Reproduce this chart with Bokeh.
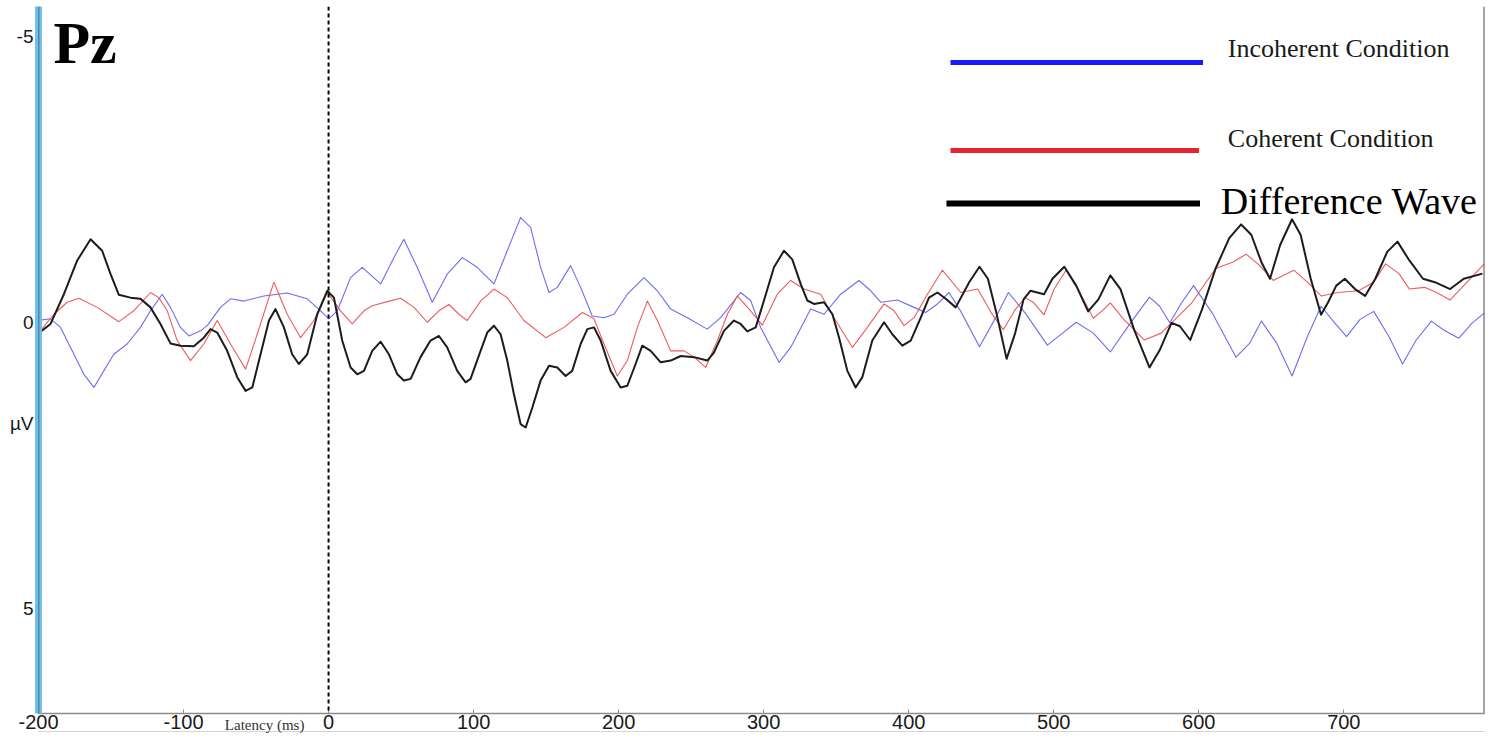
from bokeh.plotting import figure
from bokeh.models import Range1d, FixedTicker, Span, Label, Legend, LegendItem, LinearAxis
from bokeh.embed import file_html
from bokeh.resources import INLINE

# ---------------- data (latency in ms, amplitude in µV; negative plotted up) ----------------
incoherent_t = [-200.9, -191.7, -184.8, -177.9, -168.7, -161.8, -155.0, -148.1, -138.9, -129.7, -122.8,
                -114.7, -109.0, -102.1, -96.3, -88.3, -83.7, -74.5, -67.6, -58.4, -44.6, -28.5, -14.7,
                -5.5, 0.2, 6.0, 15.2, 23.2, 35.9, 45.1, 51.9, 61.1, 71.5, 81.8, 92.2, 102.5,
                114.0, 123.2, 132.4, 139.3, 146.2, 152.0, 157.7, 166.9, 173.8, 181.8, 189.9, 196.8,
                206.0, 217.5, 226.7, 235.9, 247.4, 261.1, 270.3, 284.1, 291.0, 297.9, 310.6, 318.6,
                332.4, 341.6, 353.1, 365.7, 373.8, 380.7, 392.2, 403.7, 411.7, 419.8, 427.8,
                435.9, 448.8, 459.3, 468.7, 480.4, 495.6, 506.1, 515.5, 527.3, 539.0, 553.0, 566.0,
                573.0, 580.0, 588.2, 596.4, 609.3, 625.7, 635.0, 643.2, 653.8, 664.3, 674.9, 684.3,
                693.7, 701.9, 711.2, 720.6, 731.1, 740.5, 749.9, 760.4, 768.6, 779.2, 788.6, 796.8]
incoherent_v = [-0.03, -0.06, 0.09, 0.44, 0.91, 1.14, 0.85, 0.56, 0.38, 0.09, -0.20,
                -0.49, -0.26, 0.09, 0.24, 0.15, 0.06, -0.26, -0.41, -0.37, -0.46, -0.51, -0.41,
                -0.20, -0.06, -0.20, -0.78, -0.96, -0.67, -1.13, -1.45, -0.96, -0.35, -0.84, -1.13, -0.96,
                -0.67, -1.25, -1.83, -1.66, -0.96, -0.52, -0.61, -0.99, -0.61, -0.11, -0.08, -0.14,
                -0.49, -0.78, -0.55, -0.23, -0.08, 0.12, -0.08, -0.52, -0.38, 0.09, 0.70, 0.44,
                -0.23, -0.14, -0.49, -0.73, -0.55, -0.35, -0.39, -0.26, -0.17, -0.32, -0.52,
                -0.19, 0.43, -0.05, -0.52, -0.16, 0.40, 0.19, 0.0, 0.19, 0.52, 0.01, -0.44,
                -0.28, 0.01, -0.34, -0.64, -0.16, 0.61, 0.37, -0.02, 0.37, 0.94, 0.25, -0.28,
                0.01, 0.25, -0.05, -0.19, 0.25, 0.73, 0.31, -0.02, 0.13, 0.28, 0.01, -0.16]

coherent_t = [-198.6, -189.4, -180.2, -172.2, -159.5, -144.6, -134.3, -122.8, -117.0, -111.2, -104.4,
              -95.2, -86.0, -76.8, -67.6, -57.2, -49.2, -37.7, -28.5, -19.3, -10.1, -0.9, 8.3, 16.3,
              24.4, 30.1, 40.5, 49.7, 58.9, 68.0, 76.1, 83.0, 89.9, 95.6, 104.8,
              114.0, 123.2, 134.7, 149.7, 162.3, 175.0, 183.0, 189.9, 199.1, 206.0, 212.9, 219.8,
              226.7, 235.9, 245.1, 252.0, 260.0, 268.1, 275.0, 281.8, 291.0, 299.1, 309.4, 318.6,
              327.8, 339.3, 348.5, 361.2, 371.5, 383.0, 389.9, 396.8, 403.7, 412.9, 423.2,
              435.9, 447.6, 457.0, 465.2, 473.4, 480.4, 486.3, 493.3, 500.3, 508.5, 517.9, 527.3,
              534.3, 539.0, 548.3, 562.4, 574.1, 581.2, 595.2, 611.6, 623.3, 632.7, 642.1, 651.4,
              658.5, 665.5, 674.9, 684.3, 696.0, 710.1, 720.6, 728.8, 738.1, 745.2, 755.7, 763.9,
              773.3, 785.0, 796.8]
coherent_v = [0.15, -0.14, -0.35, -0.42, -0.26, -0.01, -0.20, -0.52, -0.43, -0.20, 0.32,
              0.67, 0.38, -0.03, 0.38, 0.82, 0.21, -0.70, -0.14, 0.27, -0.03, -0.52, -0.20, 0.03,
              -0.20, -0.29, -0.36, -0.42, -0.26, 0.0, -0.20, -0.31, -0.14, -0.03, -0.37,
              -0.58, -0.43, -0.03, 0.27, 0.09, -0.17, -0.06, 0.38, 0.94, 0.67, 0.09, -0.37,
              -0.03, 0.50, 0.50, 0.61, 0.79, 0.32, -0.14, -0.46, -0.20, 0.05, -0.49, -0.73,
              -0.58, -0.49, -0.08, 0.44, 0.09, -0.32, -0.20, 0.06, -0.08, -0.49, -0.91,
              -0.52, -0.58, -0.16, 0.13, -0.22, -0.43, -0.34, -0.13, -0.58, -0.91, -0.52, -0.07,
              -0.22, -0.34, -0.05, 0.31, 0.19, 0.01, -0.34, -0.94, -1.05, -1.19, -0.99, -0.73,
              -0.82, -0.91, -0.70, -0.46, -0.52, -0.55, -0.70, -1.02, -0.85, -0.58, -0.61, -0.52,
              -0.39, -0.70, -1.02]

difference_t = [-200.9, -191.7, -182.5, -173.3, -164.1, -156.1, -150.3, -144.6, -136.6, -129.7, -122.8,
                -115.9, -109.0, -102.1, -92.9, -86.0, -81.4, -76.8, -69.9, -63.0, -57.2, -52.6, -46.9,
                -41.1, -36.6, -30.8, -25.1, -20.5, -14.7, -7.8, -0.9, 3.7, 9.4, 15.2, 19.8, 24.4,
                30.1, 35.9, 41.6, 47.4, 51.9, 56.6, 63.4, 70.3, 76.1, 81.8, 88.7, 94.5, 97.9,
                104.8, 109.4, 114.0, 118.6, 123.2, 127.8, 132.4, 135.9, 140.5, 146.2, 152.0, 157.7,
                163.4, 168.0, 173.8, 178.4, 183.0, 187.6, 194.5, 201.4, 206.0, 211.7, 216.3, 222.1,
                229.0, 235.9, 242.8, 252.0, 261.1, 265.7, 272.6, 279.5, 284.1, 288.7, 294.5, 300.2,
                307.1, 314.0, 319.7, 325.5, 330.1, 334.7, 341.6, 347.4, 352.0, 357.7, 363.4, 368.0,
                374.9, 383.0, 388.7, 395.6, 401.4, 408.3, 414.0, 419.8, 425.5, 432.4,
                441.7, 448.8, 454.6, 460.5, 467.5, 473.4, 479.2, 483.9, 493.3, 499.1, 507.3, 515.5,
                523.7, 530.8, 539.0, 546.0, 555.4, 566.0, 573.0, 581.2, 587.0, 594.1, 602.2, 611.6,
                621.0, 629.2, 636.2, 643.2, 649.1, 656.1, 664.3, 670.2, 677.2, 684.3, 689.0, 694.8,
                700.7, 707.7, 714.7, 721.7, 729.9, 737.0, 745.2, 754.6, 762.8, 773.3, 782.7, 795.6]
difference_v = [0.21, 0.03, -0.49, -1.08, -1.45, -1.25, -0.84, -0.48, -0.43, -0.41, -0.26,
                0.03, 0.37, 0.41, 0.42, 0.27, 0.12, 0.18, 0.50, 0.96, 1.20, 1.14, 0.56,
                -0.03, -0.23, 0.09, 0.56, 0.73, 0.56, -0.14, -0.55, -0.43, 0.32, 0.79, 0.91, 0.85,
                0.50, 0.34, 0.56, 0.91, 1.02, 0.99, 0.61, 0.32, 0.24, 0.44, 0.85, 1.05, 0.99,
                0.50, 0.18, 0.06, 0.21, 0.67, 1.26, 1.78, 1.84, 1.49, 1.02, 0.76, 0.79,
                0.94, 0.85, 0.38, 0.12, 0.09, 0.32, 0.85, 1.14, 1.11, 0.73, 0.41, 0.50,
                0.70, 0.67, 0.59, 0.61, 0.67, 0.53, 0.15, -0.03, 0.03, 0.16, 0.09, -0.38,
                -0.96, -1.25, -1.10, -0.67, -0.38, -0.32, -0.35, -0.14, 0.27, 0.85, 1.14, 0.96,
                0.32, 0.0, 0.21, 0.41, 0.32, -0.08, -0.43, -0.52, -0.41, -0.26,
                -0.70, -0.97, -0.76, -0.16, 0.64, 0.19, -0.40, -0.55, -0.49, -0.76, -0.97, -0.64,
                -0.19, -0.40, -0.82, -0.58, 0.13, 0.79, 0.49, 0.01, 0.07, 0.31, -0.22, -0.94,
                -1.47, -1.71, -1.53, -1.05, -0.76, -1.35, -1.80, -1.53, -0.76, -0.13, -0.34, -0.64,
                -0.76, -0.58, -0.46, -0.76, -1.23, -1.41, -1.08, -0.76, -0.70, -0.58, -0.76, -0.85]

x_ticks = [-200, -100, 0, 100, 200, 300, 400, 500, 600, 700]
y_ticks = [-5, 0, 5]
series_names = ["Incoherent Condition", "Coherent Condition", "Difference Wave"]
electrode = "Pz"
x_title, x_title_at = "Latency (ms)", -44.1
y_unit, y_unit_at = "µV", 1.77

# ---------------- figure ----------------
p = figure(width=1498, height=740, output_backend="svg", toolbar_location=None,
           x_range=Range1d(-200, 797), y_range=Range1d(6.84, -5.52),
           min_border_left=38, min_border_right=14, min_border_top=6, min_border_bottom=27)
p.grid.visible = False
p.outline_line_color = None
p.background_fill_color = "white"
p.border_fill_color = "white"

xa = p.xaxis[0]
xa.ticker = FixedTicker(ticks=x_ticks)
xa.major_label_overrides = {t: str(t) for t in x_ticks}
xa.axis_line_color = "#8c8c8c"
xa.axis_line_width = 1.5
xa.major_tick_in = 4
xa.major_tick_out = 0
xa.major_tick_line_color = "#8c8c8c"
xa.minor_tick_line_color = None
xa.major_label_text_font = "Liberation Sans"
xa.major_label_text_font_size = "20px"
xa.major_label_text_color = "#1a1a1a"
xa.major_label_standoff = 1

# y axis: numeric ticks plus the unit caption placed at its own position
ya = p.yaxis[0]
ya.ticker = FixedTicker(ticks=y_ticks + [y_unit_at])
overrides = {t: str(t) for t in y_ticks}
overrides[y_unit_at] = y_unit
ya.major_label_overrides = overrides
ya.axis_line_color = "#74c0e4"
ya.axis_line_width = 7
ya.major_tick_in = 0
ya.major_tick_out = 0
ya.minor_tick_line_color = None
ya.major_label_text_font = "Liberation Sans"
ya.major_label_text_font_size = "19px"
ya.major_label_text_color = "#1a1a1a"
ya.major_label_standoff = 5

# secondary x axis carrying only the caption "Latency (ms)" (and the light frame line under it)
xcap = LinearAxis(ticker=FixedTicker(ticks=[x_title_at]), major_label_overrides={x_title_at: x_title},
                  axis_line_color="#d4d4d4", axis_line_width=1, major_tick_line_color=None,
                  minor_tick_line_color=None, major_label_standoff=-21,
                  major_label_text_font="Liberation Serif", major_label_text_font_size="15px",
                  major_label_text_color="#333333")
p.add_layout(xcap, "below")

# dark centre of the left axis, right frame edge, stimulus onset
p.add_layout(Span(location=-200, dimension="height", line_color="#1f4e74", line_width=1.5))
p.add_layout(Span(location=797, dimension="height", line_color="#4a4a4a", line_width=2))
p.add_layout(Span(location=0, dimension="height", line_color="black", line_width=2, line_dash="4 3"))

# ---------------- waves ----------------
p.line(incoherent_t, incoherent_v, line_color="#5d5df0", line_width=1.1, line_alpha=0.9, line_join="round")
p.line(coherent_t, coherent_v, line_color="#ea4a4a", line_width=1.1, line_alpha=0.9, line_join="round")
p.line(difference_t, difference_v, line_color="#1c1c1c", line_width=2, line_join="round")

# ---------------- legend keys (one Legend per key) ----------------
nan = float("nan")
key_b = p.line(x=[nan], y=[nan], line_color="#1a1aff", line_width=5)
key_r = p.line(x=[nan], y=[nan], line_color="#e8222a", line_width=5)
key_k = p.line(x=[nan], y=[nan], line_color="black", line_width=6)


def add_key(r, loc, gw):
    lg = Legend(items=[LegendItem(label=" ", renderers=[r])], location=loc,
                glyph_width=gw, glyph_height=40, label_height=40, label_width=1,
                label_standoff=0, padding=0, spacing=0, margin=0,
                border_line_color=None, background_fill_alpha=0, label_text_font_size="8px")
    p.add_layout(lg)


add_key(key_b, (912, 631), 253)
add_key(key_r, (912, 543), 249)
add_key(key_k, (908, 490), 254)

# legend texts (placed in data space: x in ms, y in µV)
p.add_layout(Label(x=620.0, y=-4.79, text=series_names[0], text_font="Liberation Serif",
                   text_font_size="26px", text_baseline="middle", text_color="#1a1a1a"))
p.add_layout(Label(x=620.0, y=-3.21, text=series_names[1], text_font="Liberation Serif",
                   text_font_size="26px", text_baseline="middle", text_color="#1a1a1a"))
p.add_layout(Label(x=615.2, y=-2.12, text=series_names[2], text_font="Liberation Serif",
                   text_font_size="38px", text_baseline="middle", text_color="black"))

# ---------------- electrode name ----------------
p.add_layout(Label(x=-189.7, y=-4.886, text=electrode, text_font="Liberation Serif",
                   text_font_style="bold", text_font_size="60px", text_baseline="middle",
                   text_color="black"))

open("out.html", "w").write(file_html(p, INLINE))
